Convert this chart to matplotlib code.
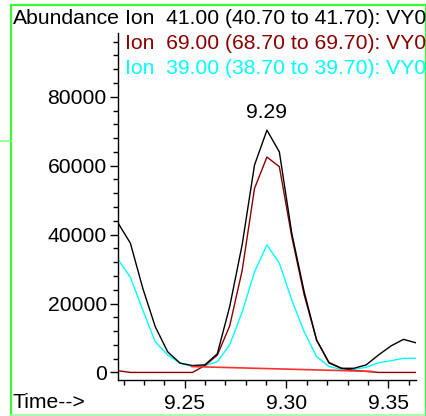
import matplotlib.pyplot as plt
from matplotlib.lines import Line2D
from matplotlib.ticker import MultipleLocator

plt.rcParams['font.family'] = ['Liberation Sans', 'DejaVu Sans']

# retention times (min)
times = [9.2172, 9.2233, 9.2294, 9.2355, 9.2416, 9.2477, 9.2538, 9.2599,
         9.2660, 9.2721, 9.2782, 9.2843, 9.2904, 9.2965, 9.3026, 9.3087,
         9.3148, 9.3209, 9.3270, 9.3331, 9.3392, 9.3453, 9.3514, 9.3575,
         9.3636]

ion41 = [43400, 37500, 24400, 13300, 6000, 2700, 2000, 2200,
         5400, 19100, 37000, 60200, 70300, 64000, 40400, 23400,
         9400, 2750, 1200, 1200, 2200, 5100, 7700, 9600, 8600]
ion69 = [500, 0, 0, 0, 0, 0, 0, 2000,
         5000, 13500, 29500, 53400, 62500, 59700, 39400, 22500,
         9400, 2900, 1200, 600, 300, 0, 0, 0, 0]
ion39 = [32800, 27600, 18100, 8900, 5100, 2700, 1700, 2000,
         3100, 8000, 17500, 29200, 37000, 31700, 21000, 11800,
         4600, 1700, 900, 900, 1500, 2800, 3400, 4100, 4100]

# integration baseline
base_t = [9.2535, 9.3420]
base_y = [1700, 300]

legend_lines = [
    ("Ion  41.00 (40.70 to 41.70): VY0", 'black'),
    ("Ion  69.00 (68.70 to 69.70): VY0", '#8b0000'),
    ("Ion  39.00 (38.70 to 39.70): VY0", '#00ffff'),
]
peak_label = "9.29"
peak_t = 9.2904
peak_y = 70300

fs = 15.2
fig = plt.figure(figsize=(4.27, 4.16), dpi=100)
ax = fig.add_axes([0.2763, 0.0865, 0.6977, 0.8342])

ax.plot(times, ion41, color='black', lw=1.0, zorder=4)
ax.plot(times, ion69, color='#8b0000', lw=1.0, zorder=3)
ax.plot(times, ion39, color='#00ffff', lw=1.0, zorder=2)
ax.plot(base_t, base_y, color='#ff3030', lw=1.2, zorder=5)

ax.set_xlim(9.2172, 9.3636)
ax.set_ylim(-2200, 98500)

for s in ['top', 'right']:
    ax.spines[s].set_visible(False)
ax.spines['left'].set_linewidth(1.0)
ax.spines['bottom'].set_linewidth(1.0)

ax.xaxis.set_major_locator(MultipleLocator(0.05))
ax.xaxis.set_minor_locator(MultipleLocator(0.01))
ax.yaxis.set_major_locator(MultipleLocator(20000))
ax.yaxis.set_minor_locator(MultipleLocator(4000))
ax.set_xticks([9.25, 9.30, 9.35])
ax.set_xticklabels(['9.25', '9.30', '9.35'])
ax.tick_params(axis='both', which='major', length=6, width=1.0, labelsize=fs, pad=2)
ax.tick_params(axis='both', which='minor', length=3.5, width=1.0)
ax.tick_params(axis='x', which='major', pad=4)

ax.annotate(peak_label, (peak_t, peak_y), xytext=(0, 6), textcoords='offset points',
            ha='center', va='bottom', fontsize=fs)

fig.text(13 / 427, 1 - 18 / 416, "Abundance", fontsize=fs, ha='left', va='center')
for i, (txt, c) in enumerate(legend_lines):
    fig.text(125 / 427, 1 - (18 + 25.5 * i) / 416, txt, fontsize=fs, color=c,
             ha='left', va='center')
fig.text(13 / 427, 1 - 403 / 416, "Time-->", fontsize=fs, ha='left', va='center')

# green frame
W, H = 427, 416
green = '#33ff33'
fig.add_artist(Line2D([11 / W, 11 / W], [0, 1 - 5 / H], color=green, lw=1.6))
fig.add_artist(Line2D([11 / W, 1], [1 - 5 / H, 1 - 5 / H], color=green, lw=1.6))
fig.add_artist(Line2D([426 / W, 426 / W], [1 / H, 1 - 5 / H], color=green, lw=1.6))
fig.add_artist(Line2D([11 / W, 1], [1 / H, 1 / H], color='#99ff99', lw=1.2))
fig.add_artist(Line2D([0, 11 / W], [1 - 141 / H, 1 - 141 / H], color='#88ff88', lw=1.2))

fig.savefig('out.png', dpi=100)
